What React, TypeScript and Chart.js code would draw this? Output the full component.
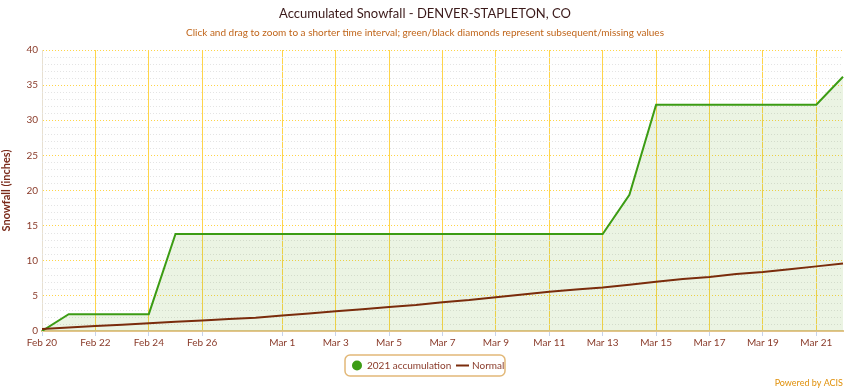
import React, { useEffect, useRef } from "react";
import { Chart, registerables } from "chart.js";

Chart.register(...registerables);

const dates = [
  "Feb 20", "Feb 21", "Feb 22", "Feb 23", "Feb 24", "Feb 25", "Feb 26", "Feb 27", "Feb 28",
  "Mar 1", "Mar 2", "Mar 3", "Mar 4", "Mar 5", "Mar 6", "Mar 7", "Mar 8", "Mar 9", "Mar 10",
  "Mar 11", "Mar 12", "Mar 13", "Mar 14", "Mar 15", "Mar 16", "Mar 17", "Mar 18", "Mar 19",
  "Mar 20", "Mar 21", "Mar 22",
];

const accumulation2021 = [
  0, 2.4, 2.4, 2.4, 2.4, 13.8, 13.8, 13.8, 13.8,
  13.8, 13.8, 13.8, 13.8, 13.8, 13.8, 13.8, 13.8, 13.8, 13.8,
  13.8, 13.8, 13.8, 19.4, 32.2, 32.2, 32.2, 32.2, 32.2,
  32.2, 32.2, 36.2,
];

const normal = [
  0.3, 0.5, 0.7, 0.9, 1.1, 1.3, 1.5, 1.7, 1.9,
  2.2, 2.5, 2.8, 3.1, 3.4, 3.7, 4.1, 4.4, 4.8, 5.2,
  5.6, 5.9, 6.2, 6.6, 7.0, 7.4, 7.7, 8.1, 8.4,
  8.8, 9.2, 9.6,
];

const tickLabels = [
  "Feb 20", "Feb 22", "Feb 24", "Feb 26", "Mar 1", "Mar 3", "Mar 5", "Mar 7", "Mar 9",
  "Mar 11", "Mar 13", "Mar 15", "Mar 17", "Mar 19", "Mar 21",
];

const yTicks = [0, 5, 10, 15, 20, 25, 30, 35, 40];

const titleText = "Accumulated Snowfall - DENVER-STAPLETON, CO";
const subtitleText =
  "Click and drag to zoom to a shorter time interval; green/black diamonds represent subsequent/missing values";
const seriesNames = ["2021 accumulation", "Normal"];

const FONT = "'Lato', 'DejaVu Sans', sans-serif";
const GREEN = "#3c9c14";
const BROWN_LINE = "#7a2c0c";
const LABEL = "#8a3b2a";
const GRID = "#ffd54a";

export default function App() {
  const ref = useRef<HTMLCanvasElement | null>(null);

  useEffect(() => {
    document.body.style.margin = "0";
    const canvas = ref.current;
    if (!canvas) return;

    const decor = {
      id: "decor",
      beforeDatasetsDraw(chart: any) {
        const { ctx, chartArea, scales } = chart;
        const y = scales.y;
        ctx.save();
        ctx.strokeStyle = "#e4e4e4";
        ctx.lineWidth = 1;
        ctx.setLineDash([1, 2]);
        for (let v = 1; v < 40; v++) {
          if (v % 5 === 0) continue;
          const py = Math.round(y.getPixelForValue(v)) + 0.5;
          ctx.beginPath();
          ctx.moveTo(chartArea.left, py);
          ctx.lineTo(chartArea.right, py);
          ctx.stroke();
        }
        ctx.restore();
      },
      afterDraw(chart: any) {
        const { ctx } = chart;
        ctx.save();
        ctx.textAlign = "center";
        ctx.textBaseline = "middle";
        ctx.fillStyle = "#3b1a1a";
        ctx.font = `13px ${FONT}`;
        ctx.fillText(titleText, 425, 14);
        ctx.fillStyle = "#c0651a";
        ctx.font = `10px ${FONT}`;
        ctx.fillText(subtitleText, 425, 33);

        // legend
        const bx = 345, by = 355, bw = 160, bh = 21;
        ctx.strokeStyle = "#e2b878";
        ctx.lineWidth = 1.5;
        ctx.beginPath();
        ctx.roundRect(bx, by, bw, bh, 5);
        ctx.stroke();
        ctx.fillStyle = GREEN;
        ctx.beginPath();
        ctx.arc(357, 365.5, 5, 0, Math.PI * 2);
        ctx.fill();
        ctx.textAlign = "left";
        ctx.fillStyle = LABEL;
        ctx.font = `10px ${FONT}`;
        ctx.fillText(seriesNames[0], 367, 366);
        ctx.strokeStyle = BROWN_LINE;
        ctx.lineWidth = 2;
        ctx.beginPath();
        ctx.moveTo(456, 365.5);
        ctx.lineTo(469, 365.5);
        ctx.stroke();
        ctx.fillText(seriesNames[1], 472, 366);

        ctx.textAlign = "right";
        ctx.fillStyle = "#e0900a";
        ctx.font = `9px ${FONT}`;
        ctx.fillText("Powered by ACIS", 843, 383);
        ctx.restore();
      },
    };

    const chart = new Chart(canvas, {
      type: "line",
      data: {
        labels: dates,
        datasets: [
          {
            label: seriesNames[0],
            data: accumulation2021,
            borderColor: GREEN,
            borderWidth: 2,
            backgroundColor: "rgba(110,180,60,0.14)",
            fill: "origin",
            pointRadius: 0,
            tension: 0,
            order: 2,
          },
          {
            label: seriesNames[1],
            data: normal,
            borderColor: BROWN_LINE,
            borderWidth: 2,
            fill: false,
            pointRadius: 0,
            tension: 0,
            order: 1,
          },
        ],
      },
      options: {
        animation: false,
        responsive: false,
        maintainAspectRatio: false,
        layout: { padding: { top: 50, right: 7, bottom: 39, left: 0 } },
        plugins: {
          legend: { display: false },
          title: { display: false },
          tooltip: { enabled: false },
        },
        scales: {
          x: {
            type: "category",
            offset: false,
            afterFit(scale: any) {
              scale.height = 20;
            },
            grid: {
              color: (c: any) =>
                c.tick && tickLabels.includes(dates[c.tick.value]) && c.tick.value !== 0 ? GRID : "transparent",
              tickColor: (c: any) =>
                c.tick && tickLabels.includes(dates[c.tick.value]) ? "#c8d4ea" : "transparent",
              tickLength: 5,
              drawOnChartArea: true,
            },
            border: { color: "#e3c48a", width: 2 },
            ticks: {
              autoSkip: false,
              maxRotation: 0,
              padding: 1,
              color: LABEL,
              font: { family: FONT, size: 10 },
              callback: (v: any) => (tickLabels.includes(dates[v]) ? dates[v] : ""),
            },
          },
          y: {
            min: 0,
            max: 40,
            afterBuildTicks(scale: any) {
              scale.ticks = yTicks.map((v) => ({ value: v }));
            },
            afterFit(scale: any) {
              scale.width = 42;
            },
            grid: {
              color: (c: any) => (c.tick && c.tick.value === 0 ? "transparent" : GRID),
              lineWidth: 1,
              drawTicks: false,
            },
            border: { display: true, color: "#e8e0d0", width: 1, dash: [1, 2] },
            ticks: {
              padding: 4,
              color: LABEL,
              font: { family: FONT, size: 10 },
            },
            title: {
              display: true,
              text: "Snowfall (inches)",
              color: "#7a2a1a",
              font: { family: FONT, size: 11, weight: "bold" },
              padding: { top: 0, bottom: 2 },
            },
          },
        },
      },
      plugins: [decor],
    });

    return () => chart.destroy();
  }, []);

  return (
    <div style={{ width: 850, height: 390 }}>
      <canvas ref={ref} width={850} height={390} style={{ display: "block" }} />
    </div>
  );
}
